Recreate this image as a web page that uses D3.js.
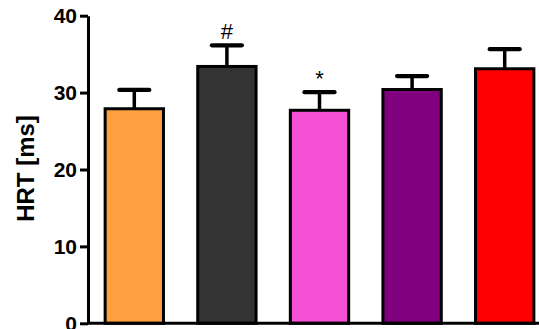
<!DOCTYPE html>
<html>
<head>
<meta charset="utf-8">
<script src="https://cdn.jsdelivr.net/npm/d3@7"></script>
<style>
  html, body { margin: 0; padding: 0; background: #fff; }
  svg { display: block; }
</style>
</head>
<body>
<svg id="chart" width="539" height="329"></svg>
<script>
const categories = ["G1", "G2", "G3", "G4", "G5"];
const means = [27.9, 33.4, 27.7, 30.4, 33.1];
const errors = [2.45, 2.75, 2.35, 1.75, 2.55];
const marks = ["", "#", "*", "", ""];
const colors = ["#FFA040", "#333333", "#F550D5", "#800080", "#FF0000"];
const yTicks = [0, 10, 20, 30, 40];
const yLabel = "HRT [ms]";

const svg = d3.select("#chart");
const font = "'Liberation Sans', Arial, Helvetica, sans-serif";

const x = d3.scaleBand().domain(categories).range([88, 551])
  .paddingInner(0.37).paddingOuter(0.185);
const y = d3.scaleLinear().domain([0, 40]).range([323.3, 15.7]);

// bars
svg.append("g").selectAll("rect").data(categories).join("rect")
  .attr("x", d => x(d))
  .attr("y", (d, i) => y(means[i]))
  .attr("width", x.bandwidth())
  .attr("height", (d, i) => y(0) - y(means[i]))
  .attr("fill", (d, i) => colors[i])
  .attr("stroke", "#000")
  .attr("stroke-width", 3);

// error bars
const eg = svg.append("g");
categories.forEach((c, i) => {
  const cx = x(c) + x.bandwidth() / 2;
  eg.append("line")
    .attr("x1", cx).attr("x2", cx)
    .attr("y1", y(means[i])).attr("y2", y(means[i] + errors[i]))
    .attr("stroke", "#000").attr("stroke-width", 3.5);
  eg.append("line")
    .attr("x1", cx - 15).attr("x2", cx + 15)
    .attr("y1", y(means[i] + errors[i])).attr("y2", y(means[i] + errors[i]))
    .attr("stroke", "#000").attr("stroke-width", 4.2)
    .attr("stroke-linecap", "round");
  if (marks[i]) {
    eg.append("text")
      .attr("x", cx).attr("y", y(means[i] + errors[i]) - 6)
      .attr("text-anchor", "middle")
      .attr("font-family", font).attr("font-size", 22)
      .attr("fill", "#000")
      .text(marks[i]);
  }
});

// x axis (baseline)
const xAxis = svg.append("g").attr("transform", `translate(0,${y(0)})`)
  .call(d3.axisBottom(x).tickSize(0).tickFormat(""));
xAxis.select(".domain").attr("d", "M88,0H539").attr("stroke-width", 3);

// y axis
const yAxis = svg.append("g").attr("transform", "translate(88,0)")
  .call(d3.axisLeft(y).tickValues(yTicks).tickSize(8).tickSizeOuter(0).tickPadding(3));
yAxis.select(".domain").attr("stroke-width", 3);
yAxis.selectAll(".tick line").attr("stroke-width", 3);
yAxis.selectAll(".tick text")
  .attr("font-family", font).attr("font-size", 21).attr("font-weight", "bold")
  .attr("fill", "#000");

// y label
svg.append("text")
  .attr("transform", "translate(34,168.5) rotate(-90)")
  .attr("text-anchor", "middle")
  .attr("font-family", font).attr("font-size", 24).attr("font-weight", "bold")
  .attr("fill", "#000")
  .text(yLabel);
</script>
</body>
</html>
